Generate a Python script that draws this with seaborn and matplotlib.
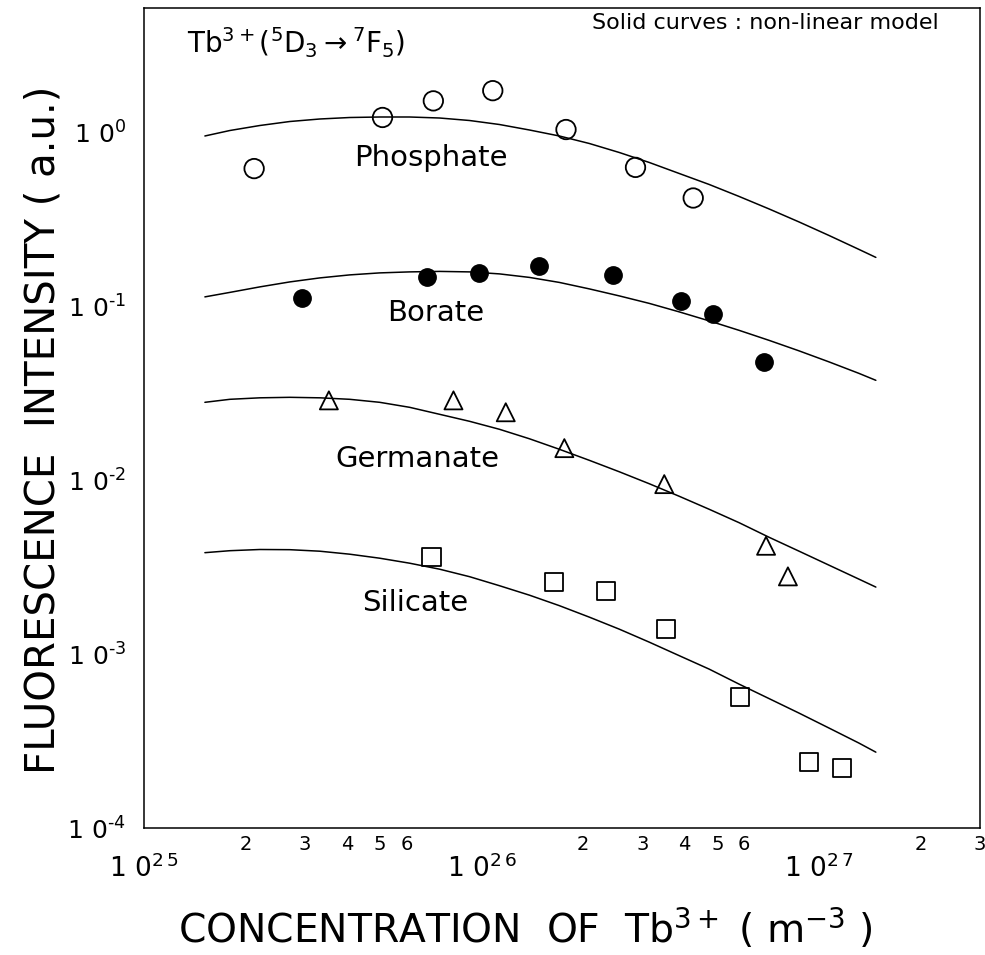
import numpy as np
import matplotlib
matplotlib.use("Agg")
import matplotlib.pyplot as plt
import seaborn as sns
from matplotlib.ticker import LogLocator, NullFormatter

# ---------------- data ----------------
# measured points
phos_x = [2.12e25, 5.09e25, 7.2e25, 1.08e26, 1.78e26, 2.86e26, 4.24e26]
phos_y = [0.62, 1.22, 1.52, 1.74, 1.04, 0.63, 0.42]

borate_x = [2.93e25, 6.88e25, 9.8e25, 1.485e26, 2.46e26, 3.91e26, 4.86e26, 6.88e26]
borate_y = [0.111, 0.147, 0.155, 0.170, 0.151, 0.108, 0.090, 0.048]

germ_x = [3.53e25, 8.26e25, 1.18e26, 1.76e26, 3.48e26, 6.97e26, 8.09e26]
germ_y = [0.0288, 0.0288, 0.0246, 0.0153, 0.0095, 0.0042, 0.0028]

sil_x = [7.11e25, 1.64e26, 2.34e26, 3.53e26, 5.84e26, 9.34e26, 1.17e27]
sil_y = [0.0036, 0.0026, 0.0023, 0.0014, 5.7e-4, 2.4e-4, 2.2e-4]

# model curves (solid lines)
curve_x = [1.515e25, 1.797e25, 2.204e25, 2.704e25, 3.317e25, 4.069e25, 4.992e25,
           6.124e25, 7.512e25, 9.215e25, 1.130e26, 1.387e26, 1.701e26, 2.087e26,
           2.560e26, 3.141e26, 3.853e26, 4.727e26, 5.799e26, 7.113e26, 8.727e26,
           1.070e27, 1.313e27, 1.474e27]

phos_cy = [0.9548, 1.0268, 1.0970, 1.1566, 1.1957, 1.2196, 1.2278, 1.2278,
           1.2115, 1.1722, 1.1117, 1.0337, 0.9548, 0.8645, 0.7674, 0.6724,
           0.5812, 0.5025, 0.4287, 0.3634, 0.3059, 0.2559, 0.2127, 0.1913]

borate_cy = [0.11339, 0.12034, 0.12944, 0.13824, 0.14577, 0.15171, 0.15578,
             0.15787, 0.15889, 0.15787, 0.15375, 0.14675, 0.13732, 0.12605,
             0.11489, 0.10404, 0.09298, 0.08254, 0.07280, 0.06377, 0.05549,
             0.04797, 0.04119, 0.03756]

germ_cy = [0.02807, 0.02921, 0.02979, 0.02999, 0.02979, 0.02921, 0.02807,
           0.02627, 0.02395, 0.02183, 0.01964, 0.01732, 0.01507, 0.01302,
           0.01119, 0.00955, 0.00809, 0.00681, 0.00570, 0.00470, 0.00391,
           0.00325, 0.00270, 0.00243]

sil_cy = [0.003832, 0.003934, 0.003997, 0.003987, 0.003908, 0.003756, 0.003562,
          0.003334, 0.003080, 0.002789, 0.002475, 0.002183, 0.001900, 0.001632,
          0.001392, 0.001172, 0.000980, 0.000820, 0.000672, 0.000555, 0.000458,
          0.000376, 0.000308, 0.000273]

series_names = ["Phosphate", "Borate", "Germanate", "Silicate"]

# tick labels
x_major_ticks = [1e25, 1e26, 1e27]
x_major_labels = [r"$\mathregular{1\ 0^{2\,5}}$", r"$\mathregular{1\ 0^{2\,6}}$",
                  r"$\mathregular{1\ 0^{2\,7}}$"]
x_minor_ticks = [2e25, 3e25, 4e25, 5e25, 6e25, 7e25, 8e25, 9e25,
                 2e26, 3e26, 4e26, 5e26, 6e26, 7e26, 8e26, 9e26,
                 2e27, 3e27]
x_minor_labels = ["2", "3", "4", "5", "6", "", "", "",
                  "2", "3", "4", "5", "6", "", "", "",
                  "2", "3"]
y_major_ticks = [1e-4, 1e-3, 1e-2, 1e-1, 1e0]
y_major_labels = [r"$\mathregular{1\ 0^{‐4}}$", r"$\mathregular{1\ 0^{‐3}}$",
                  r"$\mathregular{1\ 0^{‐2}}$", r"$\mathregular{1\ 0^{‐1}}$",
                  r"$\mathregular{1\ 0^{0}}$"]

# ---------------- style ----------------
sns.set_theme(style="white")
plt.rcParams["font.family"] = ["DejaVu Sans"]
plt.rcParams["mathtext.fontset"] = "dejavusans"

W, H = 985, 955
fig = plt.figure(figsize=(W / 100, H / 100), dpi=100)
L, R, T, B = 144, 980, 8, 828
ax = fig.add_axes([L / W, (H - B) / H, (R - L) / W, (B - T) / H])
ax.set_xscale("log")
ax.set_yscale("log")

def fx(px):
    return (px - L) / (R - L)

def fy(py):
    return (B - py) / (B - T)

# curves
for cy in [phos_cy, borate_cy, germ_cy, sil_cy]:
    sns.lineplot(x=curve_x, y=cy, ax=ax, color="black", linewidth=1.1,
                 estimator=None, sort=False)

# markers
sns.scatterplot(x=phos_x, y=phos_y, ax=ax, marker="o", s=14 ** 2,
                facecolor="none", edgecolor="black", linewidth=1.3, zorder=3)
sns.scatterplot(x=borate_x, y=borate_y, ax=ax, marker="o", s=12.5 ** 2,
                facecolor="black", edgecolor="black", linewidth=1.0, zorder=3)
sns.scatterplot(x=germ_x, y=germ_y, ax=ax, marker="^", s=13 ** 2,
                facecolor="none", edgecolor="black", linewidth=1.3, zorder=3)
sns.scatterplot(x=sil_x, y=sil_y, ax=ax, marker="s", s=13 ** 2,
                facecolor="none", edgecolor="black", linewidth=1.3, zorder=3)

ax.set_xlim(1e25, 3e27)
ax.set_ylim(1e-4, 5.2)

# ticks
ax.set_xticks(x_major_ticks, labels=x_major_labels)
ax.set_xticks(x_minor_ticks, labels=x_minor_labels, minor=True)
ax.set_yticks(y_major_ticks, labels=y_major_labels)
ax.yaxis.set_minor_locator(LogLocator(base=10, subs=np.arange(2, 10)))
ax.yaxis.set_minor_formatter(NullFormatter())

ax.tick_params(axis="both", which="both", direction="in", top=False, right=False,
               color="black", labelcolor="black")
ax.tick_params(axis="x", which="major", length=16, width=1.0, pad=19, labelsize=19)
ax.tick_params(axis="x", which="minor", length=8.5, width=1.0, pad=5, labelsize=14)
ax.tick_params(axis="y", which="major", length=14.5, width=1.0, pad=13, labelsize=18)
ax.tick_params(axis="y", which="minor", length=7, width=1.0)

for sp in ax.spines.values():
    sp.set_color("black")
    sp.set_linewidth(1.1)
    sp.set_visible(True)

# axis labels
ax.set_xlabel(r"CONCENTRATION  OF  Tb$^{3+}$ ( m$^{-3}$ )", fontsize=28.3, color="black")
ax.xaxis.set_label_coords(fx(525), fy(906))
ax.set_ylabel("FLUORESCENCE  INTENSITY ( a.u.)", fontsize=29, color="black")
ax.yaxis.set_label_coords(fx(64), fy(430))

# in-plot texts
label_pos = [(431, 158), (436, 313), (417, 459), (415, 603)]
for name, (px, py) in zip(series_names, label_pos):
    ax.text(fx(px), fy(py), name, transform=ax.transAxes, fontsize=21,
            ha="center", va="center", color="black")

ax.text(fx(187), fy(53), r"Tb$^{3+}$($^{5}$D$_{3}$$\rightarrow$$^{7}$F$_{5}$)",
        transform=ax.transAxes, fontsize=20, ha="left", va="baseline", color="black")
ax.text(fx(765), fy(23), "Solid curves : non-linear model", transform=ax.transAxes,
        fontsize=16, ha="center", va="center", color="black")

fig.savefig("out.png", dpi=100)
